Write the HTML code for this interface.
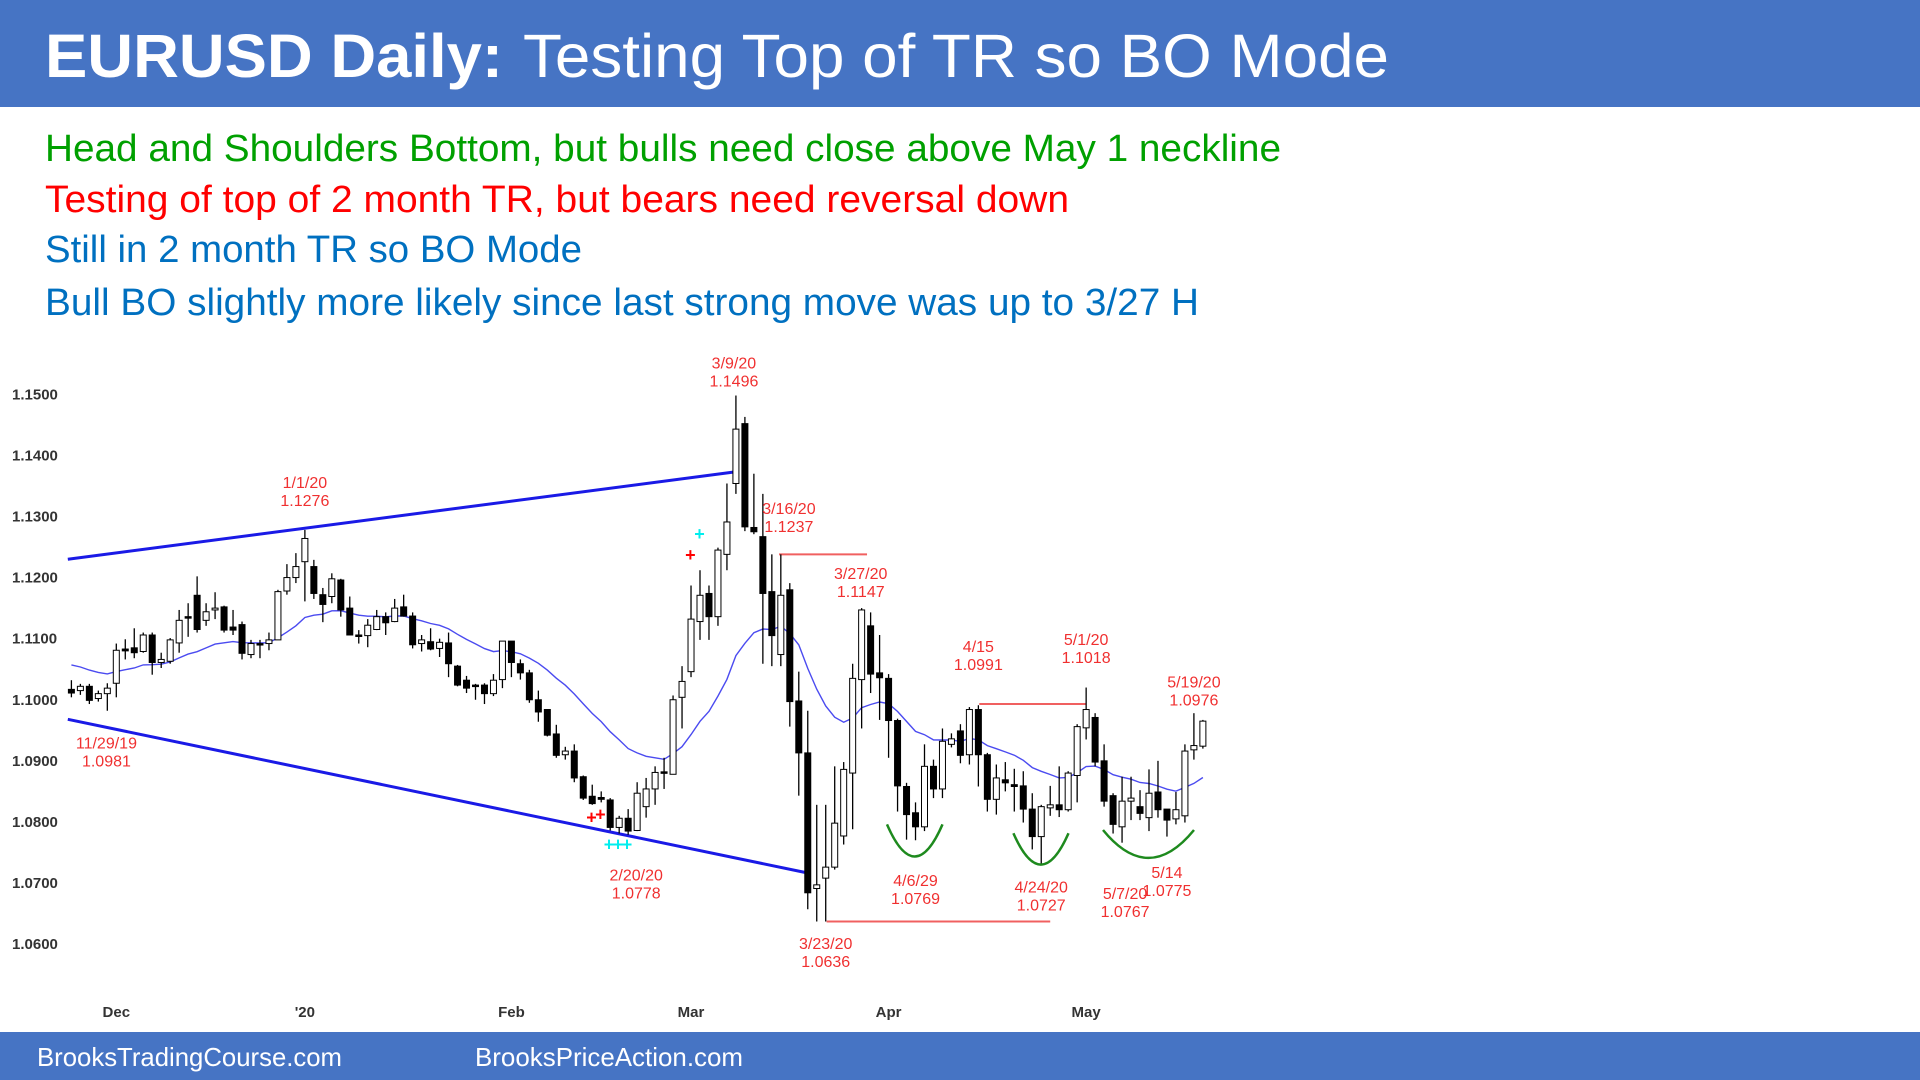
<!DOCTYPE html>
<html><head><meta charset="utf-8"><style>
html,body{margin:0;padding:0;background:#fff;}
svg{display:block;font-family:"Liberation Sans",Arial,sans-serif;}
</style></head><body>
<svg id="chart" width="1920" height="1080" viewBox="0 0 1920 1080" xmlns="http://www.w3.org/2000/svg">
<rect x="0" y="0" width="1920" height="107" fill="#4674C4"/>
<text x="45" y="77" fill="#fff" font-size="61"><tspan font-weight="bold" textLength="458" lengthAdjust="spacingAndGlyphs">EURUSD Daily:</tspan><tspan x="523" textLength="866" lengthAdjust="spacingAndGlyphs">Testing Top of TR so BO Mode</tspan></text>
<text x="45" y="161" fill="#00A000" font-size="38" textLength="1236" lengthAdjust="spacingAndGlyphs">Head and Shoulders Bottom, but bulls need close above May 1 neckline</text>
<text x="45" y="212" fill="#FF0000" font-size="38" textLength="1024" lengthAdjust="spacingAndGlyphs">Testing of top of 2 month TR, but bears need reversal down</text>
<text x="45" y="262" fill="#0070C0" font-size="38" textLength="537" lengthAdjust="spacingAndGlyphs">Still in 2 month TR so BO Mode</text>
<text x="45" y="315" fill="#0070C0" font-size="38" textLength="1154" lengthAdjust="spacingAndGlyphs">Bull BO slightly more likely since last strong move was up to 3/27 H</text>
<g id="plot"></g>
<rect x="0" y="1032" width="1920" height="48" fill="#4674C4"/>
<text x="37" y="1066" fill="#fff" font-size="26" textLength="305" lengthAdjust="spacingAndGlyphs">BrooksTradingCourse.com</text>
<text x="475" y="1066" fill="#fff" font-size="26" textLength="268" lengthAdjust="spacingAndGlyphs">BrooksPriceAction.com</text>
</svg>
<script>
const opens=[1.1017,1.1015,1.1022,1.1002,1.1010,1.1027,1.1083,1.1085,1.1079,1.1106,1.1061,1.1063,1.1093,1.1136,1.1171,1.1130,1.1147,1.1152,1.1119,1.1123,1.1074,1.1092,1.1092,1.1098,1.1178,1.1200,1.1226,1.1218,1.1172,1.1169,1.1196,1.1150,1.1106,1.1105,1.1115,1.1136,1.1128,1.1152,1.1137,1.1092,1.1095,1.1084,1.1093,1.1055,1.1032,1.1024,1.1024,1.1010,1.1033,1.1096,1.1059,1.1044,1.1000,1.0984,1.0944,1.0910,1.0916,1.0874,1.0842,1.0840,1.0836,1.0791,1.0806,1.0786,1.0825,1.0854,1.0882,1.0878,
1.1004,1.1046,1.1128,1.1174,1.1136,1.1238,1.1354,1.1452,1.1282,1.1267,1.1177,1.1074,1.1180,1.0998,1.0913,1.0691,1.0708,1.0726,1.0777,1.0880,1.1033,1.1121,1.1044,1.1035,1.0966,1.0858,1.0815,1.0792,1.0891,1.0854,1.0927,1.0949,1.0910,1.0984,1.0910,1.0837,1.0869,1.0861,1.0859,1.0821,1.0776,1.0823,1.0828,1.0820,1.0876,1.0954,1.0971,1.0900,1.0843,1.0792,1.0834,1.0825,1.0807,1.0849,1.0821,1.0805,1.0810,1.0918,1.0924];
const highs=[1.1032,1.1026,1.1026,1.1015,1.1027,1.1092,1.1099,1.1117,1.1110,1.1110,1.1077,1.1101,1.1147,1.1158,1.1202,1.1158,1.1176,1.1154,1.1147,1.1128,1.1098,1.1098,1.1110,1.1180,1.1222,1.1240,1.1278,1.1229,1.1183,1.1207,1.1198,1.1169,1.1114,1.1132,1.1147,1.1143,1.1165,1.1172,1.1143,1.1106,1.1117,1.1100,1.1110,1.1057,1.1039,1.1026,1.1027,1.1042,1.1096,1.1096,1.1066,1.1049,1.1015,1.0984,1.0959,1.0923,1.0927,1.0876,1.0861,1.0850,1.0839,1.0810,1.0821,1.0865,1.0872,1.0891,1.0905,1.1007,
1.1055,1.1187,1.1212,1.1187,1.1249,1.1354,1.1498,1.1463,1.1370,1.1337,1.1238,1.1238,1.1191,1.1046,1.0982,1.0828,1.0828,1.0891,1.0898,1.1059,1.1150,1.1143,1.1106,1.1042,1.0969,1.0864,1.0832,1.0927,1.0902,1.0953,1.0945,1.0960,1.0988,1.0991,1.0913,1.0894,1.0898,1.0887,1.0883,1.0847,1.0828,1.0859,1.0891,1.0883,1.0960,1.1020,1.0978,1.0927,1.0847,1.0874,1.0874,1.0852,1.0886,1.0900,1.0821,1.0849,1.0927,1.0978,1.0967];
const lows=[1.1004,1.1008,1.0993,1.0997,1.0982,1.1004,1.1066,1.1068,1.1077,1.1041,1.1052,1.1059,1.1077,1.1103,1.1110,1.1121,1.1132,1.1110,1.1106,1.1066,1.1068,1.1068,1.1081,1.1098,1.1172,1.1191,1.1161,1.1165,1.1127,1.1158,1.1136,1.1106,1.1092,1.1086,1.1114,1.1106,1.1127,1.1136,1.1084,1.1079,1.1081,1.1070,1.1037,1.1022,1.1011,1.1000,1.0993,1.1006,1.1019,1.1037,1.1033,1.0995,1.0964,1.0940,1.0905,1.0902,1.0865,1.0836,1.0828,1.0832,1.0786,1.0781,1.0779,1.0785,1.0807,1.0828,1.0854,1.0878,
1.0953,1.1037,1.1098,1.1098,1.1121,1.1212,1.1337,1.1276,1.1271,1.1059,1.1055,1.1055,1.0956,1.0843,1.0657,1.0637,1.0637,1.0722,1.0763,1.0788,1.0953,1.1011,1.0967,1.0905,1.0817,1.0771,1.0770,1.0785,1.0839,1.0839,1.0922,1.0896,1.0894,1.0858,1.0817,1.0812,1.0850,1.0817,1.0799,1.0755,1.0730,1.0810,1.0808,1.0817,1.0832,1.0935,1.0891,1.0825,1.0781,1.0766,1.0803,1.0803,1.0785,1.0807,1.0776,1.0796,1.0799,1.0902,1.0920];
const closes=[1.1011,1.1022,1.0999,1.1010,1.1019,1.1081,1.1080,1.1077,1.1106,1.1061,1.1066,1.1098,1.1130,1.1134,1.1115,1.1144,1.1150,1.1114,1.1114,1.1076,1.1092,1.1090,1.1098,1.1177,1.1200,1.1218,1.1264,1.1174,1.1156,1.1198,1.1147,1.1106,1.1105,1.1122,1.1136,1.1126,1.1150,1.1137,1.1090,1.1098,1.1083,1.1094,1.1059,1.1024,1.1019,1.1022,1.1010,1.1032,1.1096,1.1061,1.1044,1.1000,1.0980,1.0942,1.0909,1.0916,1.0872,1.0839,1.0830,1.0837,1.0791,1.0806,1.0785,1.0847,1.0854,1.0881,1.0880,1.1000,
1.1030,1.1132,1.1171,1.1136,1.1245,1.1291,1.1443,1.1283,1.1275,1.1174,1.1105,1.1171,1.0997,1.0913,1.0684,1.0697,1.0726,1.0798,1.0886,1.1035,1.1147,1.1042,1.1036,1.0966,1.0859,1.0812,1.0792,1.0891,1.0854,1.0932,1.0936,1.0909,1.0984,1.0910,1.0837,1.0872,1.0864,1.0858,1.0821,1.0776,1.0825,1.0828,1.0820,1.0880,1.0956,1.0984,1.0898,1.0834,1.0796,1.0834,1.0839,1.0814,1.0847,1.0820,1.0803,1.0820,1.0916,1.0925,1.0965];
const yTicks=[1.15,1.14,1.13,1.12,1.11,1.10,1.09,1.08,1.07,1.06];
const yTickLabels=["1.1500","1.1400","1.1300","1.1200","1.1100","1.1000","1.0900","1.0800","1.0700","1.0600"];
const monthLabels=["Dec","'20","Feb","Mar","Apr","May"];
const monthIndex=[5,26,49,69,91,113];
const maSeed=1.1057;
const upperTrend=[[-0.4,1.1230],[73.9,1.1373]];
const lowerTrend=[[-0.4,1.0968],[81.8,1.0717]];
const levels=[[78.8,88.6,1.1238],[101.1,113,1.0993],[84.1,109,1.0637]];
const annotations=[
 [26,1.1276,"1/1/20","1.1276"],[3.9,1.0981,"11/29/19","1.0981"],[62.9,1.0778,"2/20/20","1.0778"],
 [74,1.1496,"3/9/20","1.1496"],[79.9,1.1237,"3/16/20","1.1237"],[87.9,1.1147,"3/27/20","1.1147"],
 [101,1.0991,"4/15","1.0991"],[113,1.1018,"5/1/20","1.1018"],[125,1.0976,"5/19/20","1.0976"],
 [94,1.0769,"4/6/29","1.0769"],[108,1.0727,"4/24/20","1.0727"],[122,1.0775,"5/14","1.0775"],
 [117,1.0767,"5/7/20","1.0767"],[84,1.0636,"3/23/20","1.0636"]];
const annotOffsets=[[0,-40],[0,40],[0,48],[-2,-25],[0,-38],[0,-28],[0,-50],[0,-41],[0,-24],[0,48],[0,29],[0,44],[3,60],[0,30]];

const NS="http://www.w3.org/2000/svg";
const plot=document.getElementById('plot');
const X0=71.4, DX=8.98, Y0=394.3, PX=6109;
function xs(i){return X0+i*DX;}
function ys(p){return Y0+(1.15-p)*PX;}
function mk(tag,attrs,parent){const e=document.createElementNS(NS,tag);for(const k in attrs)e.setAttribute(k,attrs[k]);(parent||plot).appendChild(e);return e;}

yTicks.forEach((v,i)=>{
  const t=mk('text',{x:12,y:ys(v)+5,'font-size':15,'font-weight':'bold',fill:'#333'});
  t.textContent=yTickLabels[i];
  
  
});
monthLabels.forEach((m,i)=>{
  const t=mk('text',{x:xs(monthIndex[i]),y:1017,'font-size':15,'font-weight':'bold',fill:'#333','text-anchor':'middle'});
  t.textContent=m;
  
  
});
[upperTrend,lowerTrend].forEach((tl,k)=>{
  const l=mk('line',{x1:xs(tl[0][0]),y1:ys(tl[0][1]),x2:xs(tl[1][0]),y2:ys(tl[1][1]),stroke:'#1A1AE6','stroke-width':3});
  
  
});
levels.forEach(lv=>{
  const l=mk('line',{x1:xs(lv[0]),y1:ys(lv[2]),x2:xs(lv[1]),y2:ys(lv[2]),stroke:'#F06060','stroke-width':2});
  
  
});
const n=Math.min(opens.length,highs.length,lows.length,closes.length);
let ema=maSeed, pts=[];
const a=2/21;
for(let i=0;i<n;i++){ema=i===0?maSeed:ema+a*(closes[i]-ema);pts.push(xs(i).toFixed(1)+','+ys(ema).toFixed(1));}
const ma=mk('polyline',{points:pts.join(' '),fill:'none',stroke:'#4B4BF0','stroke-width':1.4});


for(let i=0;i<n;i++){
  const g=mk('g',{});
  
  
  const x=xs(i);
  mk('line',{x1:x,y1:ys(highs[i]),x2:x,y2:ys(lows[i]),stroke:'#000','stroke-width':1.3},g);
  const top=ys(Math.max(opens[i],closes[i])), bot=ys(Math.min(opens[i],closes[i]));
  const up=closes[i]>=opens[i];
  mk('rect',{x:x-3,y:top,width:6,height:Math.max(bot-top,1.5),fill:up?'#fff':'#000',stroke:'#000','stroke-width':1},g);
}
[[887,942.5,824.4,856.5],[1013.4,1068.5,833.3,864.6],[1103,1194,830,857.9]].forEach(c=>{
  const [x1,x2,y1,y2]=c, mx=(x1+x2)/2;
  const p=mk('path',{d:`M${x1},${y1} Q${mx},${y2+(y2-y1)} ${x2},${y1}`,fill:'none',stroke:'#1E8A1E','stroke-width':2.5});
  
  
});
[[690.4,555.2,'#F00'],[699.5,534,'#0EE'],[591.5,817.7,'#F00'],[600.4,814.6,'#F00'],[609,844.5,'#0EE'],[618,844.5,'#0EE'],[627,844.5,'#0EE']].forEach(m=>{
  const t=mk('text',{x:m[0],y:m[1]+6,'font-size':18,'font-weight':'bold',fill:m[2],'text-anchor':'middle'});
  t.textContent='+';
  
  
});
annotations.forEach((an,i)=>{
  const x=xs(an[0])+annotOffsets[i][0], y=ys(an[1])+annotOffsets[i][1];
  const t1=mk('text',{x:x,y:y-3,'font-size':16,fill:'#F03030','text-anchor':'middle'});
  t1.textContent=an[2];
  
  
  const t2=mk('text',{x:x,y:y+15,'font-size':16,fill:'#F03030','text-anchor':'middle'});
  t2.textContent=an[3];
  
  
});
</script>
</body></html>
